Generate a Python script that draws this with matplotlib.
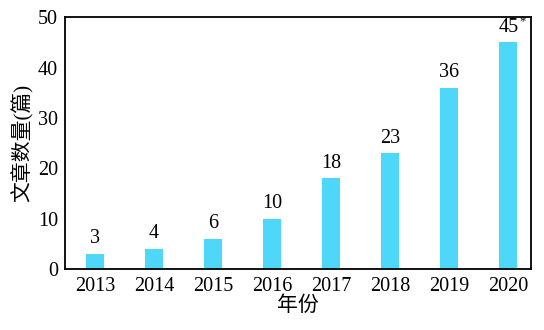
import matplotlib
matplotlib.use("Agg")
import matplotlib.pyplot as plt

years = ["2013", "2014", "2015", "2016", "2017", "2018", "2019", "2020"]
counts = [3, 4, 6, 10, 18, 23, 36, 45]
count_labels = ["3", "4", "6", "10", "18", "23", "36", "45"]
y_ticks = [0, 10, 20, 30, 40, 50]

plt.rcParams["font.family"] = ["Liberation Serif", "Noto Sans CJK SC"]

fig = plt.figure(figsize=(5.44, 3.30), dpi=100)
ax = fig.add_axes([0.1195, 0.185, 0.857, 0.763])

x = list(range(len(years)))
ax.bar(x, counts, width=0.3, color="#4dd7f9")

for xi, v, lab in zip(x, counts, count_labels):
    ax.annotate(lab, (xi, v), xytext=(0, 4), textcoords="offset points",
                ha="center", va="bottom", fontsize=14.5)
# asterisk marking the final year's count
ax.annotate("*", (x[-1], counts[-1]), xytext=(10, 10.5), textcoords="offset points",
            ha="center", va="bottom", fontsize=9)

ax.set_xlim(-0.51, 7.39)
ax.set_ylim(0, 50)
ax.set_xticks(x)
ax.set_xticklabels(years)
ax.set_yticks(y_ticks)
ax.tick_params(axis="both", length=0, labelsize=14.5)
ax.tick_params(axis="y", pad=5)
ax.tick_params(axis="x", pad=6)
for s in ax.spines.values():
    s.set_linewidth(1.3)

ax.set_xlabel("年份", fontsize=15, labelpad=0, fontweight="light")
ax.set_ylabel("文章数量(篇)", fontsize=15, labelpad=3, fontweight="light")

fig.savefig("out.png", dpi=100)
